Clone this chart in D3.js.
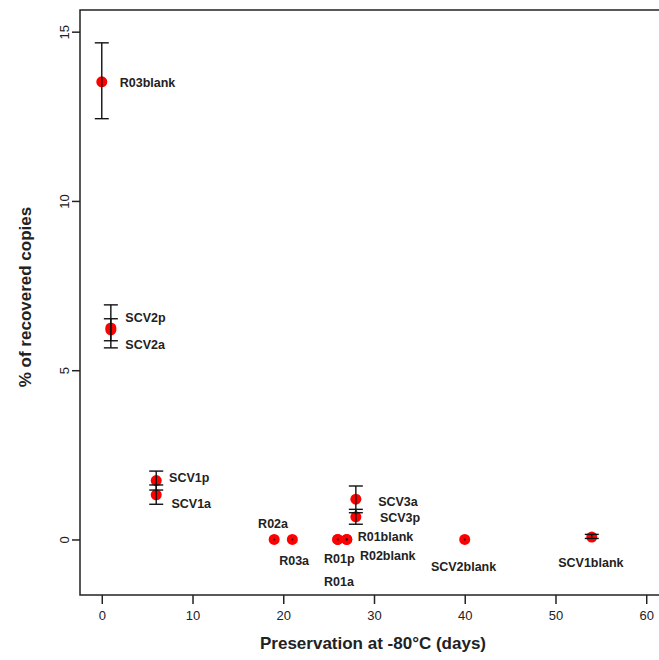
<!DOCTYPE html>
<html>
<head>
<meta charset="utf-8">
<script src="https://cdn.jsdelivr.net/npm/d3@7"></script>
<style>
  body { margin: 0; background: #fff; }
  svg { display: block; font-family: "Liberation Sans", Arial, sans-serif; }
</style>
</head>
<body>
<svg width="659" height="660"></svg>
<script>
// samples, days at -80°C, % recovered copies and the ends of its error bar
const samples = ['R03blank', 'SCV2p', 'SCV2a', 'SCV1p', 'SCV1a', 'R02a', 'R03a', 'R01p', 'R01a',
  'R01blank', 'R02blank', 'SCV3a', 'SCV3p', 'SCV2blank', 'SCV1blank']
const days = [0, 1, 1, 6, 6, 19, 21, 26, 26, 27, 27, 28, 28, 40, 54]
const recovered = [13.52, 6.25, 6.19, 1.74, 1.32, 0, 0, 0, 0, 0, 0, 1.19, 0.67, 0, 0.07]
const lower = [12.43, 5.87, 5.66, 1.46, 1.04, 0, 0, 0, 0, 0, 0, 0.79, 0.45, 0, 0.03]
const upper = [14.67, 6.93, 6.52, 2.02, 1.61, 0, 0, 0, 0, 0, 0, 1.58, 0.89, 0, 0.15]
// where each sample name was written (data units, left edge / middle)
const labelX = [1.98, 2.6, 2.6, 7.42, 7.68, 17.23, 19.55, 24.5, 24.5, 28.2, 28.45, 30.46, 30.65, 36.27, 50.3]
const labelY = [13.49, 6.55, 5.73, 1.83, 1.04, 0.46, -0.63, -0.58, -1.26, 0.08, -0.48, 1.10, 0.63, -0.82, -0.69]

const xTicks = [0, 10, 20, 30, 40, 50, 60]
const yTicks = [0, 5, 10, 15]

const plotLeft = 80
const plotTop = 10
const plotRight = 668
const plotBottom = 595
const svg = d3.select('svg')

const x = d3.scaleLinear().domain([-2.4, 62.4]).range([plotLeft, plotRight])
const y = d3.scaleLinear().domain([-1.64, 15.64]).range([plotBottom, plotTop])

const points = samples.map((name, i) => ({
  name, day: days[i], value: recovered[i], lo: lower[i], hi: upper[i], lx: labelX[i], ly: labelY[i]
}))

// x axis
const xAxis = svg.append('g')
  .attr('transform', `translate(0,${plotBottom})`)
  .call(d3.axisBottom(x).tickValues(xTicks).tickSize(9).tickPadding(7))
xAxis.select('.domain').remove()
xAxis.selectAll('line').attr('stroke', '#222').attr('stroke-width', 1.5)
xAxis.selectAll('text').attr('font-size', 13).attr('fill', '#222')
  .attr('font-family', '"Liberation Sans", Arial, sans-serif')

// y axis, labels turned like R's default
const yAxis = svg.append('g')
  .attr('transform', `translate(${plotLeft},0)`)
  .call(d3.axisLeft(y).tickValues(yTicks).tickSize(8).tickPadding(0))
yAxis.select('.domain').remove()
yAxis.selectAll('line').attr('stroke', '#222').attr('stroke-width', 1.5)
yAxis.selectAll('text')
  .attr('font-size', 13).attr('fill', '#222')
  .attr('font-family', '"Liberation Sans", Arial, sans-serif')
  .attr('x', null).attr('dy', null)
  .attr('text-anchor', 'middle')
  .attr('transform', 'translate(-16,0) rotate(-90)')
  .attr('dominant-baseline', 'central')

// frame
svg.append('rect')
  .attr('x', plotLeft).attr('y', plotTop)
  .attr('width', plotRight - plotLeft).attr('height', plotBottom - plotTop)
  .attr('fill', 'none').attr('stroke', '#222').attr('stroke-width', 1.5)

// points
svg.append('g').selectAll('circle')
  .data(points)
  .join('circle')
  .attr('cx', d => x(d.day))
  .attr('cy', d => y(d.value))
  .attr('r', 5.5)
  .attr('fill', '#ff0000')

// error bars
const bars = svg.append('g').attr('stroke', '#111').attr('stroke-width', 1.4)
points.filter(d => d.hi > d.lo).forEach(d => {
  const cx = x(d.day)
  bars.append('line')
    .attr('x1', cx).attr('x2', cx)
    .attr('y1', y(d.lo)).attr('y2', y(d.hi))
  ;[d.lo, d.hi].forEach(v => {
    bars.append('line')
      .attr('x1', cx - 7).attr('x2', cx + 7)
      .attr('y1', y(v)).attr('y2', y(v))
  })
})
svg.append('g').selectAll('circle')
  .data(points.filter(d => d.hi === d.lo))
  .join('circle')
  .attr('cx', d => x(d.day))
  .attr('cy', d => y(d.value))
  .attr('r', 1)
  .attr('fill', '#111')

// sample names
svg.append('g').selectAll('text')
  .data(points)
  .join('text')
  .attr('x', d => x(d.lx))
  .attr('y', d => y(d.ly))
  .attr('dominant-baseline', 'central')
  .attr('font-size', 12.5)
  .attr('font-weight', 'bold')
  .attr('fill', '#222')
  .text(d => d.name)

// axis titles
svg.append('text')
  .attr('x', 373).attr('y', 643)
  .attr('text-anchor', 'middle')
  .attr('dominant-baseline', 'central')
  .attr('font-size', 17).attr('font-weight', 'bold').attr('fill', '#222')
  .text('Preservation at -80°C (days)')

svg.append('text')
  .attr('transform', 'translate(25,297) rotate(-90)')
  .attr('text-anchor', 'middle')
  .attr('dominant-baseline', 'central')
  .attr('font-size', 17).attr('font-weight', 'bold').attr('fill', '#222')
  .text('% of recovered copies')
</script>
</body>
</html>
